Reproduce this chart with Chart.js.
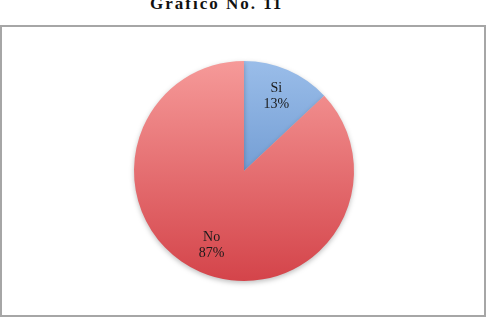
<!DOCTYPE html>
<html>
<head>
<meta charset="utf-8">
<style>
    body { margin: 0; background: #fff; }
    #wrap { position: relative; width: 487px; height: 320px; overflow: hidden; }
    #title {
        position: absolute; left: 150px; top: -6px; white-space: nowrap;
        font-family: "Liberation Serif", serif; font-weight: bold; font-size: 17px;
        letter-spacing: 2px; color: #111;
    }
    #box {
        position: absolute; left: 0; top: 25px; width: 482px; height: 288px;
        border: 2px solid #a6a6a6;
    }
    canvas { position: absolute; left: 0; top: 0; }
</style>
</head>
<body>
<div id="wrap">
    <div id="title">Gráfico No. 11</div>
    <div id="box"></div>
    <canvas id="chart_id" width="487" height="320"></canvas>
</div>
<script src="https://cdn.jsdelivr.net/npm/chart.js"></script>
<script>
    // 데이터
    const categories = ['Si', 'No'];
    const values = [13, 87];
    const percentLabels = ['13%', '87%'];

    const topColors = ['#9abde9', '#f69a99'];
    const bottomColors = ['#4f80c0', '#d4444a'];

    function sliceColor(ctx) {
        const chart = ctx.chart;
        const area = chart.chartArea;
        if (!area) return topColors[ctx.dataIndex];
        const g = chart.ctx.createLinearGradient(0, area.top, 0, area.bottom);
        g.addColorStop(0, topColors[ctx.dataIndex]);
        g.addColorStop(1, bottomColors[ctx.dataIndex]);
        return g;
    }

    // 라벨 그리기 플러그인
    const sliceLabels = {
        id: 'sliceLabels',
        afterDatasetsDraw(chart) {
            const c = chart.ctx;
            const meta = chart.getDatasetMeta(0);
            c.save();
            c.font = '14px "Liberation Serif", serif';
            c.fillStyle = '#1a1a1a';
            c.textAlign = 'center';
            c.textBaseline = 'middle';
            meta.data.forEach((arc, i) => {
                const mid = (arc.startAngle + arc.endAngle) / 2;
                const r = arc.outerRadius * 0.74;
                const x = arc.x + Math.cos(mid) * r;
                const y = arc.y + Math.sin(mid) * r;
                c.fillText(categories[i], x, y - 8);
                c.fillText(percentLabels[i], x, y + 8);
            });
            c.restore();
        }
    };

    // 그림자
    const pieShadow = {
        id: 'pieShadow',
        beforeDatasetsDraw(chart) {
            const c = chart.ctx;
            c.save();
            c.shadowColor = 'rgba(0,0,0,0.25)';
            c.shadowBlur = 5;
            c.shadowOffsetY = 2;
        },
        afterDatasetsDraw(chart) {
            chart.ctx.restore();
        }
    };

    new Chart(document.getElementById('chart_id'), {
        type: 'pie',
        data: {
            labels: categories,
            datasets: [{
                data: values,
                backgroundColor: sliceColor,
                borderWidth: 0
            }]
        },
        options: {
            responsive: false,
            animation: false,
            layout: { padding: { top: 61, bottom: 39, left: 134, right: 133 } },
            plugins: {
                legend: { display: false },
                tooltip: { enabled: false }
            }
        },
        plugins: [pieShadow, sliceLabels]
    });
</script>
</body>
</html>
